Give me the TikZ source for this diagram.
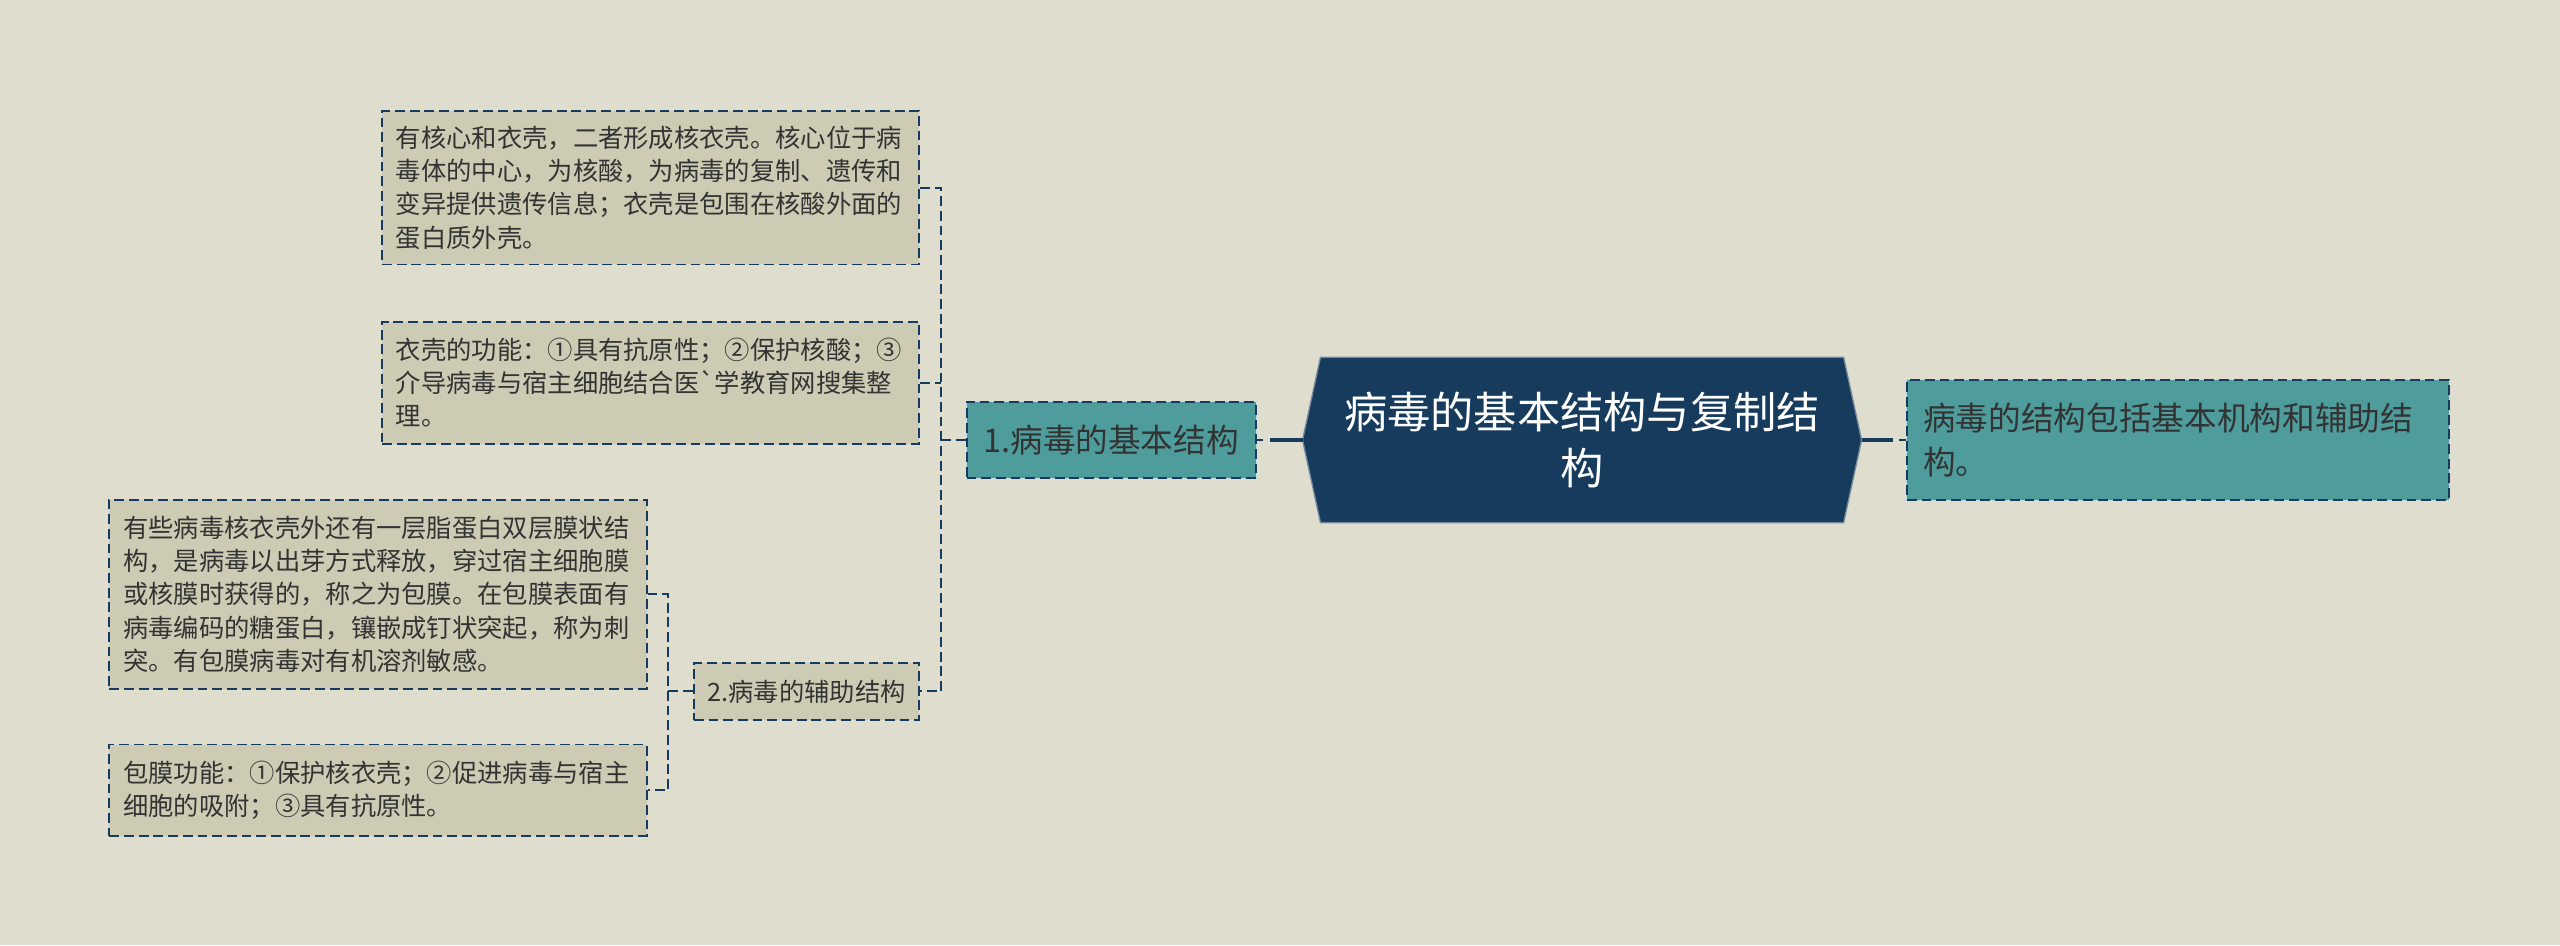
\documentclass[tikz,border=0pt]{standalone}
\usepackage{fontspec}
\newfontfamily\cjk{Noto Sans CJK SC}
\usetikzlibrary{calc,backgrounds}
\definecolor{bgc}{HTML}{DFDDCD}
\definecolor{boxc}{HTML}{CDCBB3}
\definecolor{tealc}{HTML}{4E9D9C}
\definecolor{navyc}{HTML}{163B5C}
\definecolor{txtc}{HTML}{333333}
\tikzset{
  dashb/.style={dash pattern=on 6pt off 3pt},
  leafbox/.style={draw=navyc, dashb, line width=1.2pt, fill=boxc, text=txtc,
    font=\cjk\fontsize{15.5}{20.3}\selectfont, align=left, text width=312pt,
    inner xsep=8.5pt, inner ysep=0pt, anchor=center},
  tealbox/.style={draw=navyc, dashb, line width=1.2pt, fill=tealc, text=txtc,
    preaction={draw=white!65!tealc, solid, line width=1.2pt},
    inner sep=0pt, anchor=center},
  rootbox/.style={inner sep=0pt, text=white, align=center,
    font=\cjk\fontsize{26.5}{34}\selectfont, minimum width=320pt, minimum height=101pt},
  mainline/.style={draw=navyc, line width=2.8pt},
  treeline/.style={draw=navyc, line width=1.2pt, dashb},
}
\begin{document}
\begin{tikzpicture}[x=1pt,y=-1pt]
\begin{scope}[on background layer]
  \fill[bgc] (0,0) rectangle (1568,579);
\end{scope}
\useasboundingbox (0,0) rectangle (1568,579);

% root
\node[rootbox] (root) at (969,269.5) {病毒的基本结构与复制结\\构};
\coordinate (rootL) at ($(root.west)+(-11,0)$);
\coordinate (rootR) at ($(root.east)+(11,0)$);
\begin{scope}[on background layer]
  \fill[navyc, draw=white!40!navyc, line width=0.8pt] (root.north west) -- (rootL) -- (root.south west) -- (root.south east) -- (rootR) -- (root.north east) -- cycle;
\end{scope}

% right node
\node[tealbox, minimum width=332pt, minimum height=73pt, text width=312pt, inner xsep=10pt, align=left,
  font=\cjk\fontsize{20}{27}\selectfont] (rn) at (1334,269.5) {病毒的结构包括基本机构和辅助结\\构。};

% node 1
\node[tealbox, minimum width=177pt, minimum height=47pt, font=\cjk\fontsize{20}{24}\selectfont] (n1) at (680.5,269.5) {1.病毒的基本结构};

% node 2
\node[leafbox, text width=, align=center, inner xsep=0pt, minimum width=138pt, minimum height=35pt] (n2) at (494,423.5) {2.病毒的辅助结构};

% leaves
\node[leafbox, minimum height=94pt] (ba) at (398.5,115) {有核心和衣壳，二者形成核衣壳。核心位于病\\毒体的中心，为核酸，为病毒的复制、遗传和\\变异提供遗传信息；衣壳是包围在核酸外面的\\蛋白质外壳。};
\node[leafbox, minimum height=75pt] (bb) at (398.5,234.5) {衣壳的功能：①具有抗原性；②保护核酸；③\\介导病毒与宿主细胞结合医`学教育网搜集整\\理。};
\node[leafbox, minimum height=116pt] (bc) at (231.5,364) {有些病毒核衣壳外还有一层脂蛋白双层膜状结\\构，是病毒以出芽方式释放，穿过宿主细胞膜\\或核膜时获得的，称之为包膜。在包膜表面有\\病毒编码的糖蛋白，镶嵌成钉状突起，称为刺\\突。有包膜病毒对有机溶剂敏感。};
\node[leafbox, minimum height=56pt] (bd) at (231.5,484) {包膜功能：①保护核衣壳；②促进病毒与宿主\\细胞的吸附；③具有抗原性。};

% main connectors
\draw[mainline] (rootL) -- ($(n1.east)+(8,0)$);
\draw[treeline] (n1.east) -- ($(n1.east)+(4,0)$);
\draw[mainline] (rootR) -- ($(rn.west)+(-8,0)$);
\draw[treeline] ($(rn.west)+(-4,0)$) -- (rn.west);

% tree from node 1
\coordinate (j1) at ($(n1.west)+(-15,0)$);
\draw[treeline] (n1.west) -- (j1);
\draw[treeline] (ba.east) -- (ba.east -| j1) -- (n2.east -| j1) -- (n2.east);
\draw[treeline] (bb.east) -- (bb.east -| j1);

% tree from node 2
\coordinate (j2) at ($(n2.west)+(-15,0)$);
\draw[treeline] (n2.west) -- (j2);
\draw[treeline] (bc.east) -- (bc.east -| j2) -- (bd.east -| j2) -- (bd.east);
\end{tikzpicture}
\end{document}
